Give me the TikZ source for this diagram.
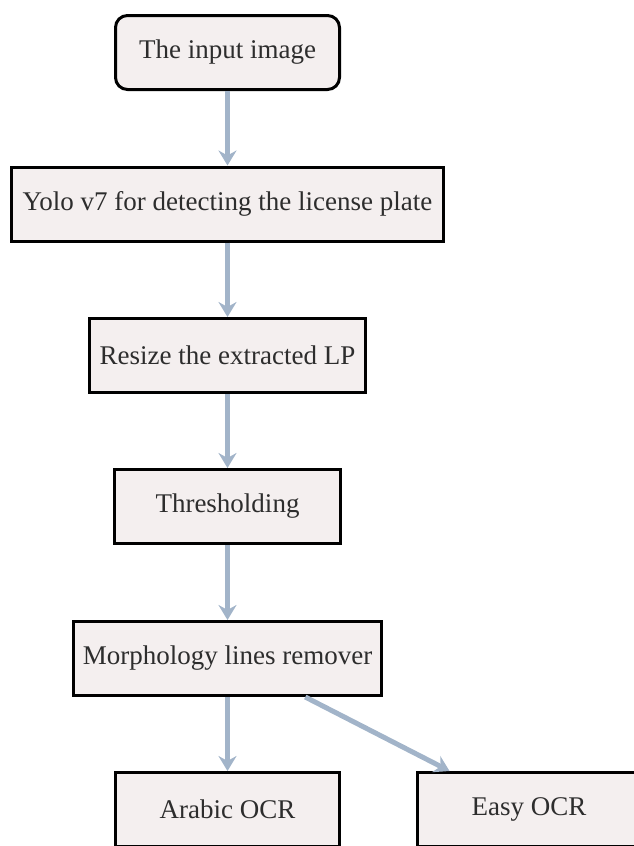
\documentclass[tikz,border=0pt]{standalone}
\usepackage{fontspec}
\setmainfont{Liberation Serif}
\usetikzlibrary{arrows.meta,calc}
\definecolor{boxfill}{RGB}{244,239,239}
\definecolor{arrowcol}{RGB}{162,180,201}
\definecolor{txtcol}{RGB}{45,45,45}
\begin{document}
\begin{tikzpicture}[x=1pt,y=-1pt,
  stepbox/.style={draw=black,line width=3pt,fill=boxfill,inner sep=0pt,
    minimum height=74pt,text=txtcol,font=\fontsize{27}{32}\selectfont},
  flow/.style={draw=arrowcol,line width=5pt,
    -{Stealth[length=15pt,width=18pt,inset=5pt,fill=arrowcol]}}]
\useasboundingbox (0,0) rectangle (634,846);
\node[stepbox,rounded corners=12pt,minimum width=224pt] (b1) at (227.5,52.5) {The input image};
\node[stepbox,minimum width=432pt] (b2) at (227.5,204) {Yolo v7 for detecting the license plate};
\node[stepbox,minimum width=276pt] (b3) at (227.5,355.5) {Resize the extracted LP};
\node[stepbox,minimum width=226pt] (b4) at (227.5,506.5) {Thresholding};
\node[stepbox,minimum width=308pt] (b5) at (227.5,658.5) {Morphology lines remover};
\node[stepbox,minimum width=224pt] (b6) at (227.5,809.5) {Arabic OCR};
\node[stepbox,minimum width=224pt] (b7) at (529,809.5) {Easy OCR};
\coordinate (d1) at ($(b5.south west)!0.75!(b5.south east)$);
\coordinate (d2) at ($(b7.north west)!0.15!(b7.north east)$);
\draw[flow] (b1) -- (b2);
\draw[flow] (b2) -- (b3);
\draw[flow] (b3) -- (b4);
\draw[flow] (b4) -- (b5);
\draw[flow] (b5) -- (b6);
\draw[flow] (d1) -- (d2);
\end{tikzpicture}
\end{document}
